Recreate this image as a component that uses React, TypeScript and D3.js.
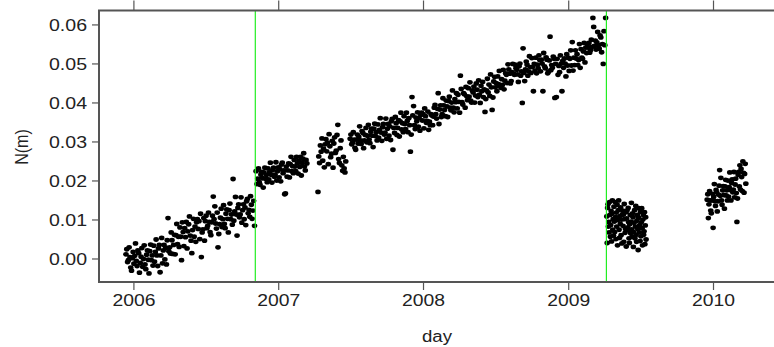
import React from "react";
import * as d3 from "d3";

const W = 774;
const H = 347;

// North component of a GPS station, in units of 0.1 mm, split into continuous runs.
const segAStart = "2005-12-12";
const segAStep = 2;
const segA = [
  12, 25, -8, -3, 30, 5, -22, -30, 2, 18,
  -12, 8, 40, -5, -18, 22, 15, -35, -10, 6,
  28, -20, 0, 35, -14, -26, 11, 22, -2, -37,
  20, 37, -3, 9, -17, 34, -7, 18, 50, 9,
  -18, 27, 36, -34, 9, 54, -11, 22, 36, -1,
  29, -14, 48, 105, 20, 30, 14, 68, 48, 13,
  36, 62, 12, 61, 90, 38, 57, 31, 81, 57,
  -3, 94, 69, 33, 79, 56, 95, 27, 71, 89,
  109, 60, 47, 15, 74, 103, 57, 83, 44, 94,
  102, 77, 97, 51, 116, 5, 68, 76, 105, 47,
  97, 111, 79, 85, 119, 95, 69, 61, 94, 111,
  160, 102, 135, 91, 78, 119, 30, 64, 89, 106,
  129, 82, 102, 138, 90, 79, 116, 127, 103, 68,
  125, 142, 102, 114, 88, 205, 98, 122, 159, 114,
  60, 131, 140, 107, 114, 158, 93, 125, 140, 102,
  132, 87, 148, 154, 117, 126, 108, 161, 139, 103,
  124, 149, 85,
];

const segBStart = "2006-11-05";
const segBStep = 2;
const segB = [
  225, 192, 206, 232, 197, 190, 216, 223, 207, 183,
  222, 234, 206, 215, 197, 232, 204, 222, 247, 216,
  196, 228, 234, 211, 216, 248, 201, 225, 235, 209,
  230, 199, 242, 247, 220, 227, 166, 168, 237, 211,
  227, 245, 209, 243, 262, 225, 238, 220, 254, 237,
  225, 262, 245, 219, 252, 236, 262, 214, 246, 257,
  271, 237, 227, 254, 245,
];

const segCStart = "2007-04-10";
const segCStep = 2;
const segC = [
  172, 263, 246, 291, 275, 309, 252, 283, 235, 294,
  307, 276, 298, 243, 320, 289, 261, 270, 303, 234,
  296, 312, 272, 278, 318, 344, 256, 246, 284, 304,
  240, 226, 262, 232, 222, 250,
];

const segDStart = "2007-06-30";
const segDStep = 2;
const segD = [
  308, 319, 294, 298, 325, 306, 285, 280, 306, 319,
  296, 313, 340, 304, 295, 328, 323, 284, 304, 318,
  336, 299, 316, 344, 306, 297, 326, 334, 316, 287,
  334, 347, 315, 325, 304, 345, 311, 331, 361, 324,
  303, 338, 346, 319, 324, 360, 308, 334, 346, 316,
  340, 305, 353, 359, 280, 336, 323, 364, 348, 318,
  336, 356, 314, 353, 375, 332, 348, 325, 366, 346,
  333, 375, 354, 325, 361, 343, 275, 319, 415, 368,
  392, 343, 333, 362, 353, 376, 339, 361, 329, 369,
  375, 355, 371, 335, 386, 366, 349, 354, 378, 331,
  352, 343, 371, 368, 343, 365, 388, 395, 371, 360,
  385, 425, 346, 383, 394, 364, 371, 412, 394, 382,
  366, 406, 391, 364, 405, 416, 388, 381, 401, 432,
  388, 376, 410, 402, 425, 386, 421, 403, 375, 470,
  436, 402, 396, 425, 422, 388, 441, 417, 407, 438,
  416, 453, 406, 401, 432, 427, 442, 401, 419, 450,
  434, 415, 458, 421, 400, 444, 430, 454, 415, 435,
  377, 410, 432, 462, 427, 447, 418, 473, 440, 382,
  414, 455, 467, 440, 451, 430, 468, 448, 482, 444,
  439, 461, 446, 485, 435, 457, 476, 472, 451, 499,
  486, 475, 450, 456, 479, 500, 475, 472, 498, 489,
  485, 473, 454, 494, 501, 470, 481, 400, 540, 477,
  456, 486, 506, 498, 470, 481, 520, 492, 477, 515,
  492, 430, 500, 482, 516, 476, 498, 489, 522, 510,
  481, 511, 501, 430, 528, 494, 489, 517, 511, 476,
  480, 509, 570, 484, 497, 490, 519, 513, 413, 500,
  415, 513, 472, 495, 479, 522, 501, 430, 508, 490,
  514, 501, 468, 525, 496, 516, 482, 513, 535, 496,
  556, 483, 516, 497, 535, 514, 525, 497, 510, 551,
  490, 538, 516, 513, 532, 554, 504, 542, 528, 550,
  542, 554, 529, 535, 562, 544, 618, 595, 546, 560,
  537, 555, 582, 548, 539, 573, 568, 530, 551, 500,
  584, 548, 618,
];

const segEStart = "2009-04-07";
const segEStep = 1;
const segE = [
  109, 41, 131, 140, 83, 95, 68, 146, 113, 57,
  87, 123, 45, 116, 150, 75, 102, 60, 134, 96,
  69, 146, 107, 51, 119, 83, 139, 35, 100, 125,
  150, 75, 54, 110, 90, 132, 61, 101, 40, 114,
  124, 85, 114, 44, 141, 102, 67, 77, 120, 32,
  104, 124, 74, 81, 131, 94, 53, 41, 89, 113,
  66, 96, 144, 76, 57, 117, 107, 31, 69, 93,
  125, 53, 83, 136, 62, 44, 98, 113, 77, 23,
  106, 130, 68, 87, 46, 121, 58, 94, 130, 79,
  35, 101, 113, 62, 71, 120, 38, 86, 107, 50,
];

const segFStart = "2009-12-16";
const segFStep = 1.5;
const segF = [
  152, 166, 105, 140, 174, 150, 124, 117, 150, 167,
  80, 159, 192, 148, 136, 177, 171, 122, 148, 165,
  188, 228, 162, 208, 150, 139, 176, 187, 164, 129,
  186, 203, 163, 176, 150, 201, 160, 184, 222, 177,
  150, 195, 204, 171, 178, 223, 158, 191, 206, 169,
  95, 155, 216, 223, 186, 240, 178, 231, 210, 174,
  250, 221, 170, 218, 244, 193,
];

// Station offsets marked by vertical lines
const eventDates = ["2006-11-03", "2009-04-06"];
const yearTicks = ["2006", "2007", "2008", "2009", "2010"];
const yTicks = [0, 0.01, 0.02, 0.03, 0.04, 0.05, 0.06];

const DAY = 86400000;
const utc = (s: string) => new Date(Date.parse(s + "T00:00:00Z"));

function toPoints(start: string, step: number, vals: number[]) {
  const t0 = utc(start).getTime();
  return vals.map((v, i) => ({ date: new Date(t0 + i * step * DAY), value: v / 10000 }));
}

const points = [
  ...toPoints(segAStart, segAStep, segA),
  ...toPoints(segBStart, segBStep, segB),
  ...toPoints(segCStart, segCStep, segC),
  ...toPoints(segDStart, segDStep, segD),
  ...toPoints(segEStart, segEStep, segE),
  ...toPoints(segFStart, segFStep, segF),
];

const left = 99;
const right = 775;
const top = 10.5;
const bottom = 282;

const x = d3.scaleUtc().domain([utc("2005-10-05"), utc("2010-06-05")]).range([left, right]);
const y = d3.scaleLinear().domain([-0.0059, 0.0637]).range([bottom, top]);
const fmt = d3.format(".2f");

const FONT = "'Liberation Sans', Arial, Helvetica, sans-serif";
const AXIS = "#555";
const TEXT = "#222";

export default function App() {
  return (
    <svg
      width={W}
      height={H}
      style={{ position: "absolute", left: 0, top: 0, background: "#fff" }}
      fontFamily={FONT}
    >
      <rect x={0} y={0} width={W} height={H} fill="#fff" />

      {/* data */}
      <g>
        {points.map((p, i) => (
          <ellipse key={i} cx={x(p.date)} cy={y(p.value)} rx={2.8} ry={2.4} fill="#000" />
        ))}
      </g>

      {/* offset markers */}
      {eventDates.map((d) => (
        <line
          key={d}
          x1={x(utc(d))}
          x2={x(utc(d))}
          y1={top}
          y2={bottom}
          stroke="#22ee22"
          strokeWidth={1.2}
        />
      ))}

      {/* frame */}
      <rect
        x={left}
        y={top}
        width={right - left}
        height={bottom - top}
        fill="none"
        stroke={AXIS}
        strokeWidth={2}
      />

      {/* x axis, bottom and top */}
      {yearTicks.map((yr) => {
        const xx = x(utc(yr + "-01-01"));
        return (
          <g key={yr}>
            <line x1={xx} x2={xx} y1={bottom} y2={bottom + 8} stroke={AXIS} strokeWidth={1.2} />
            <line x1={xx} x2={xx} y1={top} y2={top - 10} stroke={AXIS} strokeWidth={1.2} />
            <text
              x={xx}
              y={306}
              textAnchor="middle"
              fontSize={16}
              fill={TEXT}
              textLength={43}
              lengthAdjust="spacingAndGlyphs"
            >
              {yr}
            </text>
          </g>
        );
      })}

      {/* y axis */}
      {yTicks.map((t) => {
        const yy = y(t);
        return (
          <g key={t}>
            <line x1={left - 7} x2={left} y1={yy} y2={yy} stroke={AXIS} strokeWidth={1.2} />
            <text
              x={87}
              y={yy + 5.8}
              textAnchor="end"
              fontSize={16}
              fill={TEXT}
              textLength={38}
              lengthAdjust="spacingAndGlyphs"
            >
              {fmt(t)}
            </text>
          </g>
        );
      })}

      {/* axis titles */}
      <text
        x={437}
        y={342}
        textAnchor="middle"
        fontSize={16}
        fill={TEXT}
        textLength={30}
        lengthAdjust="spacingAndGlyphs"
      >
        day
      </text>
      <text
        transform="translate(28,147) scale(1.2,1) rotate(-90)"
        textAnchor="middle"
        fontSize={16}
        fill={TEXT}
      >
        N(m)
      </text>
    </svg>
  );
}
